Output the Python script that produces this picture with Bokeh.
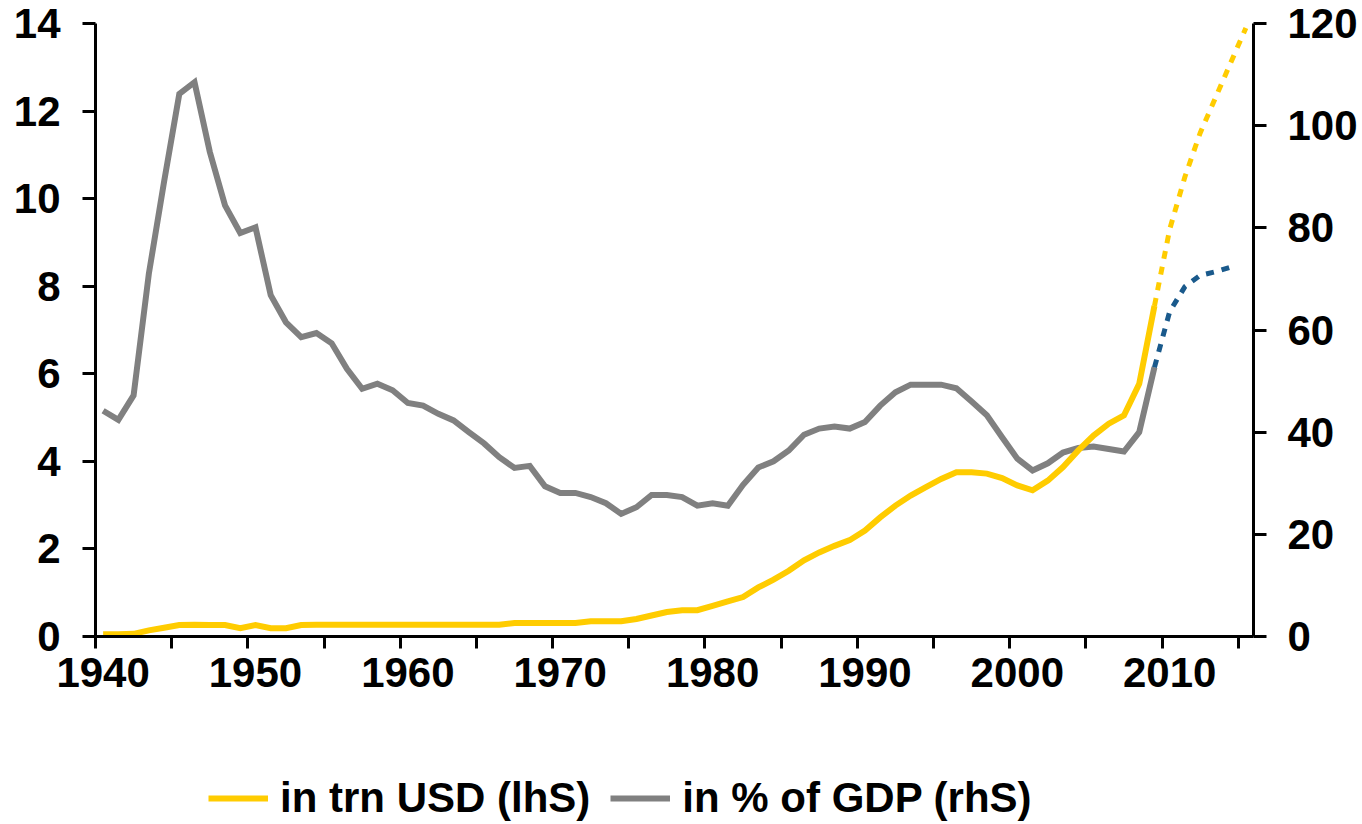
from bokeh.plotting import figure
from bokeh.layouts import column
from bokeh.models import Range1d, LinearAxis, FixedTicker, Legend, LegendItem
from bokeh.embed import file_html
from bokeh.resources import INLINE

# ---- data -------------------------------------------------------------
years = list(range(1940, 2010))
debt_trn = [
    0.05, 0.05, 0.06, 0.14, 0.20, 0.26, 0.27, 0.26, 0.26, 0.19,
    0.26, 0.19, 0.19, 0.26, 0.27, 0.27, 0.27, 0.27, 0.27, 0.27,
    0.27, 0.27, 0.27, 0.27, 0.27, 0.27, 0.27, 0.31, 0.31, 0.31,
    0.31, 0.31, 0.35, 0.35, 0.35, 0.40, 0.48, 0.56, 0.60, 0.60,
    0.70, 0.80, 0.90, 1.12, 1.30, 1.50, 1.74, 1.92, 2.07, 2.20,
    2.42, 2.72, 2.99, 3.22, 3.41, 3.60, 3.75, 3.75, 3.72, 3.62,
    3.45, 3.34, 3.56, 3.87, 4.25, 4.59, 4.86, 5.05, 5.77, 7.55,
]
debt_gdp = [
    44.2, 42.4, 47.2, 71.0, 89.0, 106.2, 108.5, 94.9, 84.4, 79.0,
    80.1, 66.8, 61.5, 58.6, 59.4, 57.4, 52.4, 48.5, 49.5, 48.2,
    45.7, 45.2, 43.6, 42.3, 40.0, 37.8, 35.1, 33.0, 33.4, 29.4,
    28.1, 28.1, 27.3, 26.1, 24.0, 25.3, 27.7, 27.7, 27.3, 25.6,
    26.1, 25.6, 29.7, 33.1, 34.3, 36.4, 39.5, 40.7, 41.1, 40.7,
    42.0, 45.2, 47.8, 49.3, 49.3, 49.3, 48.6, 46.0, 43.3, 39.0,
    34.8, 32.5, 33.9, 36.0, 36.9, 37.2, 36.7, 36.2, 40.0, 52.7,
]
fc_years_trn = [2009, 2010, 2011, 2012, 2013, 2014, 2015]
fc_trn = [7.55, 9.3, 10.5, 11.5, 12.3, 13.1, 13.9]
fc_years_gdp = [2009, 2010, 2011, 2012, 2013, 2014]
fc_gdp = [52.7, 63.6, 68.5, 70.7, 71.4, 72.3]

x_labels = [1940, 1950, 1960, 1970, 1980, 1990, 2000, 2010]
x_bounds = [1939.5 + 5 * k for k in range(16)]
lhs_ticks = [0, 2, 4, 6, 8, 10, 12, 14]
rhs_ticks = [0, 20, 40, 60, 80, 100, 120]
label_trn = "in trn USD (lhS)"
label_gdp = "in % of GDP (rhS)"

YELLOW = "#FFCC00"
GRAY = "#808080"
BLUE = "#1A5A8C"
FONT = "Liberation Sans"
FSIZE = "42px"

# ---- main chart ---------------------------------------------------------
p = figure(
    width=1362, height=720,
    x_range=Range1d(1939.5, 2015.5), y_range=Range1d(0, 14),
    output_backend="svg", toolbar_location=None,
    min_border_left=95, min_border_right=109,
    min_border_top=23, min_border_bottom=84,
)
p.extra_y_ranges = {"rhs": Range1d(0, 120)}
p.outline_line_color = None
p.xgrid.visible = False
p.ygrid.visible = False
p.background_fill_color = "white"
p.border_fill_color = "white"


def style_axis(ax, standoff):
    ax.axis_line_width = 3
    ax.axis_line_color = "black"
    ax.major_tick_line_width = 3
    ax.major_tick_line_color = "black"
    ax.major_tick_out = 13
    ax.major_tick_in = 0
    ax.minor_tick_line_color = None
    ax.major_label_text_font = FONT
    ax.major_label_text_font_style = "bold"
    ax.major_label_text_font_size = FSIZE
    ax.major_label_text_color = "black"
    ax.major_label_standoff = standoff


# x axis: labels centred on years, tick marks on 5-year boundaries
xa = p.xaxis[0]
xa.ticker = FixedTicker(ticks=x_labels, minor_ticks=x_bounds)
style_axis(xa, 9)
xa.major_tick_out = 12
xa.major_tick_line_color = None
xa.minor_tick_line_color = "black"
xa.minor_tick_line_width = 3
xa.minor_tick_out = 12
xa.minor_tick_in = 0

ya = p.yaxis[0]
ya.ticker = FixedTicker(ticks=lhs_ticks)
style_axis(ya, 22)

ra = LinearAxis(y_range_name="rhs", ticker=FixedTicker(ticks=rhs_ticks))
style_axis(ra, 21)
p.add_layout(ra, "right")

p.line(years, debt_gdp, y_range_name="rhs", line_color=GRAY,
       line_width=6, line_join="miter")
p.line(years, debt_trn, line_color=YELLOW, line_width=6, line_join="miter")
p.line(fc_years_gdp, fc_gdp, y_range_name="rhs", line_color=BLUE,
       line_width=5, line_dash="8 8")
p.line(fc_years_trn, fc_trn, line_color=YELLOW, line_width=5,
       line_dash="8 8")

# ---- legend strip (its frame is aligned with the chart's frame) ---------
q = figure(
    width=1362, height=104, x_range=Range1d(0, 1), y_range=Range1d(-1, 0),
    output_backend="svg", toolbar_location=None,
    x_axis_location=None, y_axis_location=None,
    min_border=0,
)
q.outline_line_color = None
q.xgrid.visible = False
q.ygrid.visible = False
q.border_fill_color = "white"
# proxies for the legend swatches (drawn outside this strip's visible range)
lg_trn = q.line(years, debt_trn, line_color=YELLOW, line_width=6)
lg_gdp = q.line(years, debt_gdp, line_color=GRAY, line_width=6)

legend = Legend(
    items=[LegendItem(label=label_trn, renderers=[lg_trn]),
           LegendItem(label=label_gdp, renderers=[lg_gdp])],
    orientation="horizontal", location=(113, 2),
    label_text_font=FONT, label_text_font_style="bold",
    label_text_font_size=FSIZE, label_text_color="black",
    glyph_width=60, glyph_height=20, label_standoff=12, spacing=20,
    padding=0, margin=0, border_line_color=None, background_fill_alpha=0,
)
q.add_layout(legend, "center")

open("out.html", "w").write(file_html(column(p, q, spacing=0), INLINE))
